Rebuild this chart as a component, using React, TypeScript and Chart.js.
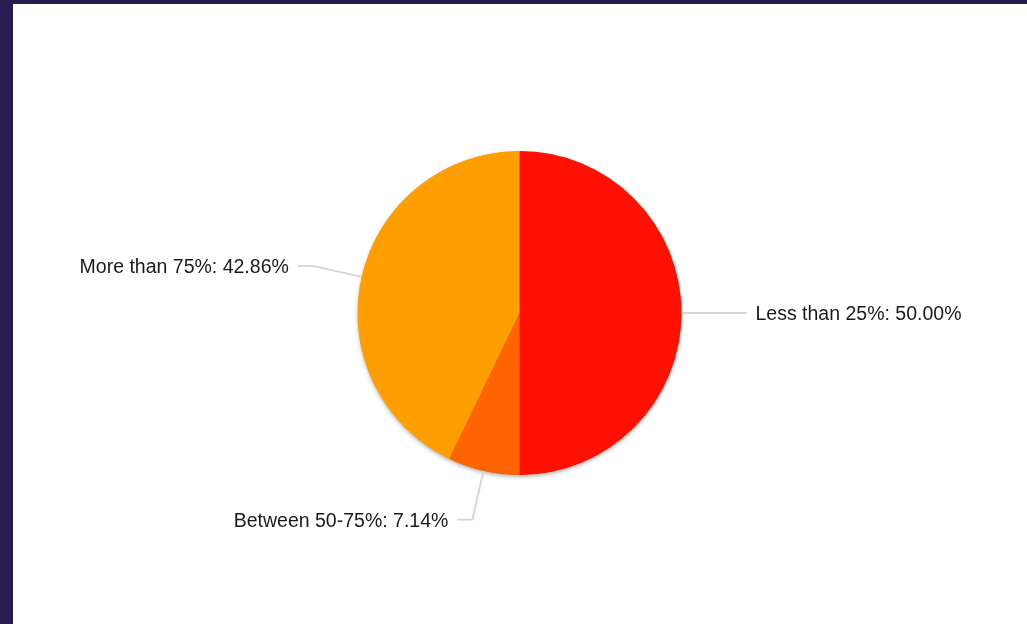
import React, { useEffect, useRef } from "react";
import { Chart, registerables } from "chart.js";

Chart.register(...registerables);

const categories = ["Less than 25%", "Between 50-75%", "More than 75%"];
const percentValues = [50.0, 7.14, 42.86];
const sliceColors = ["#ff1000", "#ff6400", "#ff9e01"];

const labelPlugin = {
  id: "outsideLabels",
  beforeDatasetsDraw(chart: any) {
    const meta = chart.getDatasetMeta(0);
    const arc = meta.data[0];
    if (!arc) return;
    const { x, y, outerRadius } = arc.getProps(["x", "y", "outerRadius"], true);
    const ctx = chart.ctx;
    ctx.save();
    ctx.shadowColor = "rgba(0,0,0,0.35)";
    ctx.shadowBlur = 4;
    ctx.shadowOffsetY = 2;
    ctx.beginPath();
    ctx.arc(x, y, outerRadius - 0.5, 0, Math.PI * 2);
    ctx.fillStyle = "#cc5500";
    ctx.fill();
    ctx.restore();
  },
  afterDatasetsDraw(chart: any) {
    const ctx = chart.ctx;
    const meta = chart.getDatasetMeta(0);
    const data = chart.data.datasets[0].data as number[];
    meta.data.forEach((el: any, i: number) => {
      const { x, y, startAngle, endAngle, outerRadius } = el.getProps(
        ["x", "y", "startAngle", "endAngle", "outerRadius"],
        true
      );
      const mid = (startAngle + endAngle) / 2;
      const cx = Math.cos(mid);
      const cy = Math.sin(mid);
      const p0x = x + outerRadius * cx;
      const p0y = y + outerRadius * cy;
      const r2 = outerRadius + 50;
      const p1x = x + r2 * cx;
      const p1y = y + r2 * cy;
      const right = cx >= -1e-6;
      const p2x = p1x + (right ? 15 : -15);
      ctx.save();
      ctx.strokeStyle = "#d4d4d4";
      ctx.lineWidth = 1.8;
      ctx.beginPath();
      ctx.moveTo(p0x, p0y);
      ctx.lineTo(p1x, p1y);
      ctx.lineTo(p2x, p1y);
      ctx.stroke();
      ctx.fillStyle = "#1a1a1a";
      ctx.font = '19.5px "Liberation Sans", Arial, sans-serif';
      ctx.textBaseline = "middle";
      ctx.textAlign = right ? "left" : "right";
      const txt = `${chart.data.labels[i]}: ${data[i].toFixed(2)}%`;
      ctx.fillText(txt, p2x + (right ? 9 : -9), p1y + 2);
      ctx.restore();
    });
  },
};

export default function App() {
  const canvasRef = useRef<HTMLCanvasElement | null>(null);

  useEffect(() => {
    const prevMargin = document.body.style.margin;
    document.body.style.margin = "0";
    const chart = new Chart(canvasRef.current as HTMLCanvasElement, {
      type: "pie",
      data: {
        labels: categories,
        datasets: [
          {
            data: percentValues,
            backgroundColor: sliceColors,
            borderWidth: 0,
          },
        ],
      },
      options: {
        animation: false,
        responsive: true,
        maintainAspectRatio: false,
        layout: { padding: { top: 147, bottom: 149, left: 0, right: 1 } },
        plugins: {
          legend: { display: false },
          tooltip: { enabled: false },
        },
      },
      plugins: [labelPlugin],
    });
    return () => {
      chart.destroy();
      document.body.style.margin = prevMargin;
    };
  }, []);

  return (
    <div
      style={{
        position: "fixed",
        left: 0,
        top: 0,
        width: 1027,
        height: 624,
        background: "#281c50",
        overflow: "hidden",
      }}
    >
      <div
        style={{
          position: "absolute",
          left: 13,
          top: 4,
          width: 1014,
          height: 620,
          background: "#ffffff",
        }}
      >
        <canvas ref={canvasRef} />
      </div>
    </div>
  );
}
